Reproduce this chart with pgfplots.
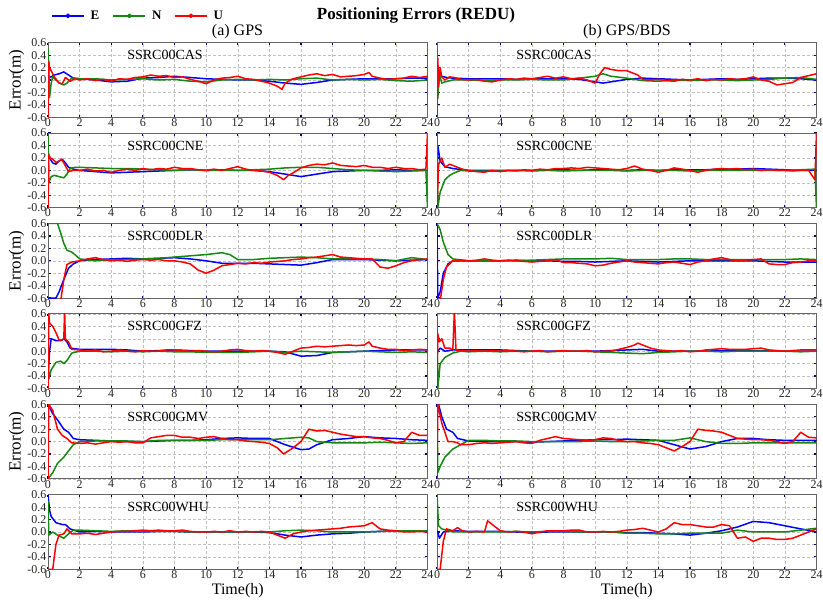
\documentclass[border=0pt]{standalone}
\usepackage{fontspec}
\setmainfont{Liberation Serif}
\usepackage{pgfplots}
\pgfplotsset{compat=1.18}
\definecolor{cE}{RGB}{0,0,255}
\definecolor{cN}{RGB}{20,135,20}
\definecolor{cU}{RGB}{255,0,0}
\pgfplotsset{
 panel/.style={scale only axis, width=379.5pt, height=74.6pt,
  xmin=0,xmax=24,ymin=-0.6,ymax=0.6,
  xtick={0,2,...,24}, xticklabels={0,2,4,6,8,10,12,14,16,18,20,22,24},
  ytick={-0.6,-0.4,-0.2,0,0.2,0.4,0.6},
  grid=major, major grid style={densely dashed, gray!50, line width=0.4pt},
  axis line style={black!60, line width=1pt},
  tick style={draw=blue!45!black, line width=1.2pt}, major tick length=2.5pt,
  tick align=inside,
  ticklabel style={font=\fontsize{12}{13}\selectfont, text=black!85},
  xticklabel style={inner sep=1pt},
  yticklabel style={inner sep=1.5pt},
  every axis plot/.append style={line width=1.5pt, no markers, line join=round},
  ylabel style={font=\fontsize{17}{18}\selectfont, yshift=-2pt},
  xlabel style={font=\fontsize{16}{17}\selectfont, yshift=0pt},
  anchor=north west},
 leftp/.style={panel, yticklabels={-0.6,-0.4,-0.2,0.0,0.2,0.4,0.6}},
 rightp/.style={panel, yticklabels={}},
 pE/.style={cE}, pN/.style={cN}, pU/.style={cU},
}
\newcommand{\stat}[1]{\node[anchor=west, inner sep=0pt, font=\fontsize{14}{15}\selectfont] at (axis cs:5,0.4) {#1};}
\begin{document}
\begin{tikzpicture}
\path[use as bounding box] (0,0) rectangle (823pt,605pt);
\node[font=\bfseries\fontsize{17}{18}\selectfont] at (416pt,590pt) {Positioning Errors (REDU)};
\node[font=\fontsize{16}{17}\selectfont] at (237.5pt,573pt) {(a) GPS};
\node[font=\fontsize{16}{17}\selectfont] at (627pt,573pt) {(b) GPS/BDS};

% ---------- Row 1 CAS ----------
\begin{axis}[leftp, at={(48pt,562.3pt)}, ylabel={Error(m)},
  legend entries={\makebox[24pt][l]{\hspace{4pt}E},\makebox[24pt][l]{\hspace{4pt}N},\makebox[24pt][l]{\hspace{4pt}U}},
  legend style={at={(0.008,1.36)}, anchor=west, draw=none, fill=none, inner sep=0pt,
    legend columns=3, font=\bfseries\fontsize{13}{14}\selectfont},
  legend image code/.code={\draw[#1, line width=1.5pt] (0pt,0pt) -- (32pt,0pt); \fill[#1] (16pt,0pt) circle (1.6pt);}]
\addplot[pE] coordinates {(0,0.0)(0.05,-0.1)(0.1,0.05)(0.2,0.05)(0.4,0.08)(0.7,0.1)(1.0,0.13)(1.3,0.08)(1.6,0.03)(2,0.02)(3,0.0)(4,-0.03)(5,-0.02)(6,0.03)(7,0.04)(8,0.06)(9,0.04)(10,0.02)(11,0.01)(12,0.0)(13,0.0)(14,-0.02)(15,-0.05)(16,-0.07)(17,-0.04)(18,0.0)(19,0.01)(20,0.02)(21,0.02)(22,0.02)(23,0.03)(24,0.03)};
\addplot[pN] coordinates {(0,0.5)(0.05,0.2)(0.1,-0.28)(0.2,-0.05)(0.3,0.05)(0.5,0.0)(0.8,-0.06)(1.0,-0.08)(1.2,-0.05)(1.5,0.03)(2,0.02)(3,0.02)(4,0.0)(5,0.01)(6,0.02)(7,0.0)(8,0.01)(9,-0.02)(10,-0.03)(11,0.0)(12,0.01)(13,0.0)(14,0.01)(15,0.0)(16,0.02)(17,0.03)(18,0.0)(19,0.01)(20,0.0)(21,0.01)(22,-0.01)(23,-0.02)(24,0.0)};
\addplot[pU] coordinates {(0,-0.6)(0.05,0.3)(0.1,0.2)(0.2,0.15)(0.4,0.05)(0.7,-0.05)(0.9,-0.06)(1.1,0.04)(1.4,-0.02)(1.7,0.02)(2,0.0)(2.5,0.02)(3,-0.01)(3.5,0.01)(4,-0.02)(4.5,0.02)(5,0.01)(5.5,0.04)(6,0.05)(6.5,0.08)(7,0.06)(7.5,0.07)(8,0.04)(8.5,0.05)(9,0.01)(9.5,-0.02)(10,-0.06)(10.5,0.0)(11,0.03)(11.5,0.04)(12,0.06)(12.5,0.02)(13,0.01)(13.5,-0.02)(14,-0.05)(14.5,-0.1)(14.8,-0.15)(15,-0.05)(15.5,0.02)(16,0.05)(16.5,0.08)(17,0.1)(17.5,0.07)(18,0.09)(18.5,0.05)(19,0.06)(19.5,0.07)(20,0.09)(20.3,0.12)(20.5,0.06)(21,0.03)(21.5,0.01)(22,0.02)(22.5,0.03)(23,0.06)(23.5,0.04)(24,0.06)};
\stat{SSRC00CAS}
\end{axis}
\begin{axis}[rightp, at={(437pt,562.3pt)}]
\addplot[pE] coordinates {(0,0.0)(0.1,0.05)(0.3,0.06)(0.6,0.04)(1,0.03)(2,0.02)(3,0.02)(4,0.02)(5,0.01)(6,0.02)(7,0.02)(8,0.02)(9,0.01)(10,-0.03)(10.5,-0.05)(11,-0.03)(12,0.01)(13,0.03)(14,0.02)(15,0.01)(16,0.0)(17,0.01)(18,0.02)(19,0.01)(20,0.02)(21,0.03)(22,0.03)(23,0.02)(24,0.0)};
\addplot[pN] coordinates {(0,0.5)(0.05,-0.3)(0.15,0.1)(0.3,-0.05)(0.5,-0.03)(1,0.0)(2,0.0)(3,-0.01)(4,0.0)(5,0.0)(6,0.01)(7,0.0)(8,0.0)(9,0.03)(10,0.06)(10.5,0.1)(11,0.06)(12,0.03)(13,-0.01)(14,-0.02)(15,0.0)(16,-0.01)(17,0.0)(18,0.0)(19,-0.01)(20,0.0)(21,0.01)(22,0.03)(23,0.04)(24,0.01)};
\addplot[pU] coordinates {(0,-0.6)(0.05,0.35)(0.1,-0.1)(0.2,0.2)(0.3,0.05)(0.5,0.0)(0.8,0.05)(1.1,0.04)(1.5,0.01)(2,0.0)(2.5,0.01)(3,-0.02)(3.5,-0.03)(4,0.0)(4.5,0.02)(5,0.01)(5.5,0.03)(6,0.02)(6.5,0.04)(7,0.06)(7.5,0.03)(8,0.05)(8.5,0.02)(9,0.03)(9.5,0.0)(10,-0.05)(10.3,0.1)(10.6,0.2)(11,0.17)(11.5,0.15)(12,0.15)(12.3,0.12)(12.7,0.08)(13,0.01)(13.5,0.0)(14,0.01)(14.5,-0.01)(15,-0.02)(15.5,0.01)(16,0.0)(16.5,0.02)(17,-0.01)(17.5,0.01)(18,0.0)(18.5,0.02)(19,0.01)(19.5,0.02)(20,0.05)(20.5,0.0)(21,-0.02)(21.5,-0.08)(22,-0.06)(22.5,-0.04)(23,0.04)(23.5,0.07)(24,0.1)};
\stat{SSRC00CAS}
\end{axis}

% ---------- Row 2 CNE ----------
\begin{axis}[leftp, at={(48pt,471.9pt)}]
\addplot[pE] coordinates {(0,0.3)(0.05,0.25)(0.1,0.2)(0.3,0.12)(0.5,0.1)(0.7,0.15)(0.9,0.18)(1.1,0.12)(1.3,0.05)(1.6,0.02)(2,0.0)(3,-0.02)(4,-0.04)(5,-0.03)(6,-0.02)(7,-0.01)(8,0.0)(9,0.01)(10,0.0)(11,0.01)(12,0.0)(13,0.0)(14,-0.02)(15,-0.06)(16,-0.1)(17,-0.06)(18,-0.02)(19,-0.01)(20,0.0)(21,0.0)(22,0.01)(23,0.0)(24,0.0)};
\addplot[pN] coordinates {(0,0.55)(0.05,-0.2)(0.2,-0.1)(0.4,-0.08)(0.7,-0.1)(1.0,-0.12)(1.2,-0.06)(1.4,0.03)(1.7,0.05)(2,0.05)(3,0.04)(4,0.03)(5,0.03)(6,0.02)(7,0.01)(8,0.0)(9,0.01)(10,0.0)(11,0.0)(12,0.0)(13,0.01)(14,0.02)(15,0.04)(16,0.05)(17,0.05)(18,0.03)(19,0.01)(20,0.0)(21,-0.01)(22,-0.02)(23,-0.01)(23.9,0.0)(24,-0.6)};
\addplot[pU] coordinates {(0,-0.6)(0.05,0.25)(0.15,0.2)(0.3,0.18)(0.5,0.13)(0.7,0.15)(0.85,0.18)(1.0,0.12)(1.15,0.05)(1.3,-0.02)(1.6,0.0)(2,0.0)(2.5,0.02)(3,-0.01)(3.5,0.0)(4,-0.03)(4.5,0.0)(5,0.02)(5.5,0.0)(6,0.03)(6.5,0.01)(7,0.03)(7.5,0.02)(8,0.05)(8.5,0.03)(9,0.03)(9.5,0.01)(10,0.0)(10.5,0.02)(11,0.0)(11.5,0.03)(12,0.06)(12.5,0.02)(13,0.0)(13.5,-0.01)(14,-0.03)(14.5,-0.08)(14.9,-0.15)(15.2,-0.08)(15.5,-0.04)(16,0.04)(16.5,0.08)(17,0.1)(17.5,0.09)(18,0.12)(18.5,0.08)(19,0.07)(19.5,0.06)(20,0.08)(20.5,0.05)(21,0.05)(21.5,0.03)(22,0.05)(22.5,0.03)(23,0.03)(23.5,0.01)(23.9,0.02)(24,0.6)};
\stat{SSRC00CNE}
\end{axis}
\begin{axis}[rightp, at={(437pt,471.9pt)}]
\addplot[pE] coordinates {(0,0.0)(0.05,0.4)(0.2,0.15)(0.5,0.06)(1,0.03)(2,0.0)(3,0.0)(4,0.0)(5,0.0)(6,0.0)(7,0.01)(8,0.01)(9,0.0)(10,0.01)(11,0.01)(12,0.0)(13,0.01)(14,0.0)(15,0.01)(16,0.01)(17,0.01)(18,0.02)(19,0.02)(20,0.03)(21,0.02)(22,0.01)(23,0.0)(23.9,0.0)(24,0.0)};
\addplot[pN] coordinates {(0,0.6)(0.05,-0.6)(0.2,-0.35)(0.5,-0.15)(0.8,-0.08)(1.1,-0.04)(1.5,0.0)(2,-0.01)(3,-0.01)(4,-0.01)(5,0.0)(6,-0.01)(7,0.0)(8,-0.01)(9,0.0)(10,0.0)(11,0.0)(12,-0.01)(13,0.0)(14,0.0)(15,0.0)(16,-0.01)(17,0.0)(18,0.0)(19,0.0)(20,0.0)(21,0.0)(22,0.0)(23,0.01)(23.9,0.02)(24,-0.6)};
\addplot[pU] coordinates {(0,-0.6)(0.1,0.1)(0.3,0.2)(0.5,0.05)(0.8,0.1)(1.2,0.06)(1.6,0.02)(2,0.0)(2.5,-0.02)(3,-0.03)(3.5,0.0)(4,-0.02)(4.5,0.0)(5,-0.01)(5.5,0.01)(6,0.0)(6.5,0.02)(7,0.01)(7.5,0.03)(8,0.03)(8.5,0.04)(9,0.03)(9.5,0.05)(10,0.04)(10.5,0.03)(11,0.02)(11.5,0.01)(12,0.03)(12.5,0.07)(13,0.02)(13.5,0.0)(14,-0.03)(14.5,0.0)(15,0.04)(15.5,0.02)(16,0.0)(16.5,-0.03)(17,0.0)(17.5,0.02)(18,0.03)(18.5,0.02)(19,0.03)(19.5,0.01)(20,0.02)(20.5,0.0)(21,0.01)(21.5,0.0)(22,0.0)(22.5,-0.01)(23,0.0)(23.5,0.0)(23.9,-0.15)(24,0.6)};
\stat{SSRC00CNE}
\end{axis}

% ---------- Row 3 DLR ----------
\begin{axis}[leftp, at={(48pt,381.5pt)}, ylabel={Error(m)}]
\addplot[pE] coordinates {(0,-0.6)(0.5,-0.6)(0.7,-0.5)(1,-0.3)(1.3,-0.12)(1.6,-0.05)(2,0.0)(3,0.02)(4,0.03)(5,0.04)(6,0.03)(7,0.04)(8,0.05)(9,0.03)(10,0.0)(11,-0.04)(12,-0.04)(13,-0.04)(14,-0.05)(15,-0.06)(16,-0.07)(17,-0.03)(18,0.02)(19,0.02)(20,0.02)(21,0.01)(22,0.0)(23,0.01)(24,0.02)};
\addplot[pN] coordinates {(0,0.6)(0.6,0.6)(0.8,0.45)(1.0,0.28)(1.2,0.17)(1.5,0.14)(1.7,0.1)(2,0.03)(3,0.0)(4,0.02)(5,0.02)(6,0.03)(7,0.04)(8,0.06)(9,0.08)(10,0.1)(11,0.13)(11.5,0.1)(12,0.02)(13,0.02)(14,0.04)(15,0.05)(16,0.06)(17,0.05)(18,0.03)(19,0.03)(20,0.03)(21,0.02)(22,0.0)(23,0.05)(24,0.02)};
\addplot[pU] coordinates {(0.8,-0.65)(1.0,-0.3)(1.2,-0.06)(1.5,-0.02)(2,0.0)(2.5,0.03)(3,0.05)(3.5,0.02)(4,0.0)(4.5,0.01)(5,-0.01)(5.5,0.01)(6,0.02)(6.5,0.01)(7,0.02)(7.5,0.0)(8,0.0)(8.5,-0.02)(9,-0.05)(9.5,-0.15)(10,-0.2)(10.5,-0.15)(11,-0.08)(11.5,-0.06)(12,-0.04)(12.5,-0.05)(13,-0.03)(13.5,-0.04)(14,-0.02)(14.5,-0.01)(15,0.0)(15.5,0.02)(16,0.03)(16.5,0.05)(17,0.06)(17.5,0.08)(18,0.1)(18.5,0.06)(19,0.05)(19.5,0.04)(20,0.03)(20.5,0.03)(21,-0.1)(21.5,-0.12)(22,-0.08)(22.5,-0.03)(23,0.0)(23.5,0.02)(24,0.03)};
\stat{SSRC00DLR}
\end{axis}
\begin{axis}[rightp, at={(437pt,381.5pt)}]
\addplot[pE] coordinates {(0,0.6)(0.05,-0.6)(0.2,-0.5)(0.4,-0.2)(0.7,-0.05)(1,0.0)(2,0.0)(3,0.0)(4,0.0)(5,0.01)(6,0.0)(7,0.0)(8,-0.01)(9,-0.01)(10,-0.02)(11,-0.01)(12,0.0)(13,-0.01)(14,-0.02)(15,-0.01)(16,0.0)(17,0.0)(18,0.0)(19,0.0)(20,0.0)(21,-0.01)(22,-0.02)(23,-0.02)(24,-0.02)};
\addplot[pN] coordinates {(0,0.6)(0.2,0.5)(0.4,0.3)(0.7,0.1)(1,0.03)(2,0.0)(3,0.0)(4,0.0)(5,0.0)(6,0.01)(7,0.02)(8,0.03)(9,0.03)(10,0.03)(11,0.04)(12,0.02)(13,0.02)(14,0.02)(15,0.03)(16,0.03)(17,0.02)(18,0.02)(19,0.02)(20,0.02)(21,0.02)(22,0.02)(23,0.03)(24,0.02)};
\addplot[pU] coordinates {(0.2,-0.65)(0.4,-0.3)(0.6,-0.1)(1,0.0)(1.5,0.01)(2,0.0)(2.5,0.01)(3,0.03)(3.5,0.01)(4,0.0)(4.5,0.01)(5,0.0)(5.5,-0.01)(6,-0.02)(6.5,-0.01)(7,0.0)(7.5,0.02)(8,-0.03)(8.5,-0.03)(9,-0.04)(9.5,-0.05)(10,-0.08)(10.5,-0.07)(11,-0.04)(11.5,-0.02)(12,0.0)(12.5,-0.02)(13,-0.03)(13.5,-0.04)(14,-0.05)(14.5,-0.03)(15,-0.02)(15.5,-0.04)(16,-0.06)(16.5,-0.02)(17,0.0)(17.5,0.03)(18,0.05)(18.5,0.02)(19,0.0)(19.5,0.01)(20,0.02)(20.5,0.03)(21,-0.05)(21.5,-0.06)(22,-0.06)(22.5,-0.03)(23,-0.02)(23.5,0.0)(24,0.0)};
\stat{SSRC00DLR}
\end{axis}

% ---------- Row 4 GFZ ----------
\begin{axis}[leftp, at={(48pt,291.1pt)}]
\addplot[pE] coordinates {(0,-0.4)(0.1,0.0)(0.2,0.2)(0.5,0.17)(0.8,0.17)(1.0,0.2)(1.2,0.15)(1.4,0.05)(2,0.03)(3,0.03)(4,0.03)(5,0.02)(6,0.0)(7,0.01)(8,0.02)(9,0.01)(10,0.0)(11,0.0)(12,0.0)(13,0.0)(14,0.0)(15,-0.01)(16,-0.08)(17,-0.07)(18,-0.02)(19,-0.01)(20,0.0)(21,0.01)(22,0.02)(23,0.02)(24,0.02)};
\addplot[pN] coordinates {(0,0.6)(0.05,-0.45)(0.2,-0.3)(0.5,-0.18)(0.8,-0.16)(1.0,-0.2)(1.2,-0.15)(1.5,-0.03)(2,0.0)(3,0.0)(4,-0.01)(5,0.0)(6,-0.01)(7,0.0)(8,-0.01)(9,-0.01)(10,-0.02)(11,-0.02)(12,-0.02)(13,-0.01)(14,0.0)(15,-0.02)(16,0.0)(17,-0.01)(18,-0.02)(19,-0.01)(20,0.0)(21,-0.01)(22,-0.02)(23,-0.01)(24,-0.02)};
\addplot[pU] coordinates {(0,-0.6)(0.05,0.6)(0.1,0.45)(0.3,0.4)(0.5,0.3)(0.7,0.18)(0.9,0.18)(1.0,0.2)(1.05,0.65)(1.1,0.2)(1.3,0.15)(1.5,0.03)(2,0.02)(2.5,0.0)(3,0.02)(3.5,-0.01)(4,0.0)(4.5,0.02)(5,0.0)(5.5,-0.01)(6,0.01)(6.5,0.0)(7,0.0)(7.5,0.02)(8,0.02)(8.5,0.01)(9,0.0)(9.5,0.01)(10,0.0)(10.5,-0.01)(11,0.0)(11.5,0.02)(12,0.03)(12.5,0.01)(13,0.0)(13.5,0.01)(14,0.0)(14.5,-0.02)(15,-0.05)(15.5,0.0)(16,0.05)(16.5,0.06)(17,0.08)(17.5,0.07)(18,0.08)(18.5,0.09)(19,0.1)(19.5,0.09)(20,0.1)(20.3,0.15)(20.5,0.08)(21,0.05)(21.5,0.03)(22,0.03)(22.5,0.01)(23,0.02)(23.5,0.03)(24,0.02)};
\stat{SSRC00GFZ}
\end{axis}
\begin{axis}[rightp, at={(437pt,291.1pt)}]
\addplot[pE] coordinates {(0,0.0)(0.05,0.0)(0.2,0.05)(0.5,0.0)(1,0.02)(2,0.02)(3,0.02)(4,0.02)(5,0.01)(6,0.0)(7,0.0)(8,0.0)(9,0.0)(10,0.0)(11,0.01)(12,0.02)(13,0.03)(14,0.0)(15,0.0)(16,0.0)(17,0.0)(18,0.01)(19,0.01)(20,0.01)(21,0.01)(22,0.0)(23,0.0)(24,0.0)};
\addplot[pN] coordinates {(0,0.5)(0.05,-0.6)(0.2,-0.2)(0.5,-0.1)(1,-0.03)(1.5,0.0)(2,-0.01)(3,0.0)(4,-0.01)(5,0.0)(6,0.0)(7,-0.01)(8,0.0)(9,0.0)(10,-0.01)(11,-0.02)(12,-0.03)(13,-0.04)(14,-0.02)(15,-0.01)(16,0.0)(17,0.0)(18,-0.01)(19,0.0)(20,0.0)(21,0.0)(22,0.0)(23,-0.01)(24,0.0)};
\addplot[pU] coordinates {(0,-0.6)(0.05,0.28)(0.15,0.15)(0.3,0.2)(0.5,0.05)(0.8,0.05)(1.0,0.02)(1.1,0.65)(1.2,0.02)(1.5,0.01)(2,0.0)(2.5,0.01)(3,0.0)(3.5,0.01)(4,0.0)(4.5,0.01)(5,0.0)(5.5,-0.01)(6,0.0)(6.5,0.01)(7,-0.01)(7.5,0.0)(8,0.01)(8.5,0.0)(9,0.0)(9.5,0.01)(10,-0.01)(10.5,0.0)(11,0.0)(11.5,0.03)(12,0.06)(12.5,0.1)(12.7,0.13)(13,0.1)(13.5,0.05)(14,0.02)(14.5,0.01)(15,0.0)(15.5,0.01)(16,-0.01)(16.5,0.0)(17,0.02)(17.5,0.03)(18,0.04)(18.5,0.03)(19,0.03)(19.5,0.03)(20,0.04)(20.5,0.05)(21,0.02)(21.5,0.01)(22,0.0)(22.5,0.01)(23,0.02)(23.5,0.02)(24,0.02)};
\stat{SSRC00GFZ}
\end{axis}

% ---------- Row 5 GMV ----------
\begin{axis}[leftp, at={(48pt,200.7pt)}, ylabel={Error(m)}]
\addplot[pE] coordinates {(0,0.6)(0.1,0.55)(0.3,0.45)(0.6,0.35)(1,0.2)(1.3,0.15)(1.6,0.05)(2,0.03)(3,0.02)(4,0.01)(5,0.0)(6,0.0)(7,0.01)(8,0.02)(9,0.02)(10,0.03)(11,0.05)(12,0.06)(13,0.05)(14,0.05)(14.5,0.0)(15,-0.05)(16,-0.13)(16.5,-0.12)(17,-0.05)(18,0.03)(19,0.05)(20,0.08)(21,0.06)(22,0.05)(23,0.03)(24,0.02)};
\addplot[pN] coordinates {(0,-0.6)(0.3,-0.5)(0.6,-0.35)(1,-0.25)(1.3,-0.15)(1.6,-0.05)(2,0.0)(3,0.01)(4,0.01)(5,0.01)(6,0.0)(7,0.02)(8,0.02)(9,0.02)(10,0.02)(11,0.03)(12,0.03)(13,0.03)(14,0.03)(15,0.05)(16,0.07)(16.5,0.06)(17,0.0)(18,-0.02)(19,-0.02)(20,-0.02)(21,-0.01)(22,-0.02)(23,-0.03)(24,-0.02)};
\addplot[pU] coordinates {(0,-0.6)(0.05,0.6)(0.3,0.5)(0.6,0.2)(0.9,0.1)(1.2,0.05)(1.5,-0.02)(2,-0.03)(2.5,-0.02)(3,-0.04)(3.5,-0.02)(4,0.0)(4.5,-0.01)(5,0.0)(5.5,-0.02)(6,-0.02)(6.5,0.06)(7,0.08)(7.5,0.1)(8,0.1)(8.5,0.07)(9,0.07)(9.5,0.05)(10,0.07)(10.5,0.08)(11,0.05)(11.5,0.03)(12,0.03)(12.5,0.01)(13,0.0)(13.5,-0.01)(14,-0.03)(14.5,-0.1)(14.9,-0.2)(15.5,-0.1)(16,0.0)(16.5,0.2)(17,0.17)(17.5,0.18)(18,0.15)(18.5,0.12)(19,0.1)(19.5,0.08)(20,0.08)(20.5,0.06)(21,0.05)(21.5,0.02)(22,-0.02)(22.5,0.0)(23,0.15)(23.5,0.1)(24,0.1)};
\stat{SSRC00GMV}
\end{axis}
\begin{axis}[rightp, at={(437pt,200.7pt)}]
\addplot[pE] coordinates {(0,0.6)(0.1,0.6)(0.3,0.4)(0.6,0.2)(1,0.15)(1.3,0.05)(2,0.01)(3,0.0)(4,0.0)(5,0.0)(6,-0.01)(7,0.0)(8,0.01)(9,0.02)(10,0.03)(11,0.03)(12,0.04)(13,0.03)(14,0.02)(15,-0.05)(16,-0.12)(17,-0.08)(18,0.0)(19,0.05)(20,0.05)(21,0.03)(22,0.02)(23,0.02)(24,0.02)};
\addplot[pN] coordinates {(0,0.6)(0.05,-0.5)(0.2,-0.4)(0.5,-0.25)(1,-0.12)(1.5,-0.05)(2,0.02)(3,0.02)(4,0.01)(5,0.01)(6,0.0)(7,0.0)(8,0.0)(9,0.0)(10,0.01)(11,0.0)(12,0.0)(13,0.01)(14,0.02)(15,0.02)(16,0.06)(17,0.0)(18,-0.03)(19,-0.03)(20,-0.02)(21,-0.02)(22,-0.02)(23,-0.02)(24,-0.02)};
\addplot[pU] coordinates {(0,-0.6)(0.05,0.6)(0.3,0.3)(0.7,0.0)(1.0,0.0)(1.3,-0.02)(1.5,-0.05)(2,-0.05)(2.5,-0.03)(3,-0.02)(3.5,-0.03)(4,-0.02)(4.5,-0.01)(5,0.0)(5.5,-0.02)(6,-0.03)(6.5,0.02)(7,0.05)(7.5,0.08)(8,0.05)(8.5,0.04)(9,0.03)(9.5,0.02)(10,0.03)(10.5,0.06)(11,0.05)(11.5,0.02)(12,0.0)(12.5,0.0)(13,-0.02)(13.5,-0.03)(14,-0.05)(14.5,-0.1)(15,-0.15)(15.5,-0.08)(16,0.0)(16.5,0.2)(17,0.18)(17.5,0.17)(18,0.15)(18.5,0.1)(19,0.05)(19.5,0.04)(20,0.03)(20.5,0.03)(21,0.02)(21.5,0.0)(22,-0.03)(22.5,0.0)(23,0.15)(23.5,0.07)(24,0.06)};
\stat{SSRC00GMV}
\end{axis}

% ---------- Row 6 WHU ----------
\begin{axis}[leftp, at={(48pt,110.3pt)}, xlabel={Time(h)}]
\addplot[pE] coordinates {(0,0.6)(0.1,0.35)(0.2,0.25)(0.5,0.15)(0.9,0.12)(1.1,0.12)(1.4,0.05)(2,0.0)(3,0.01)(4,0.0)(5,0.0)(6,0.0)(7,0.01)(8,0.01)(9,0.0)(10,0.0)(11,0.0)(12,0.0)(13,0.0)(14,-0.01)(15,-0.05)(16,-0.08)(17,-0.05)(18,-0.03)(19,-0.02)(20,0.0)(21,0.01)(22,0.02)(23,0.02)(24,0.02)};
\addplot[pN] coordinates {(0,0.5)(0.05,-0.05)(0.3,0.0)(0.6,-0.05)(1.0,-0.1)(1.3,-0.03)(1.6,0.03)(2,0.03)(3,0.02)(4,0.01)(5,0.02)(6,0.01)(7,0.01)(8,0.01)(9,0.0)(10,0.0)(11,0.0)(12,0.0)(13,0.0)(14,0.0)(15,0.02)(16,0.03)(17,0.02)(18,0.0)(19,0.0)(20,0.0)(21,0.01)(22,0.02)(23,0.02)(24,0.02)};
\addplot[pU] coordinates {(0,-0.6)(0.3,-0.6)(0.5,-0.2)(0.7,-0.05)(1.0,-0.03)(1.2,0.05)(1.5,-0.03)(2,-0.03)(2.5,-0.02)(3,-0.04)(3.5,-0.02)(4,0.0)(4.5,0.01)(5,0.01)(5.5,0.02)(6,0.03)(6.5,0.02)(7,0.03)(7.5,0.02)(8,0.02)(8.5,0.03)(9,0.01)(9.5,0.0)(10,0.0)(10.5,0.01)(11,0.0)(11.5,0.02)(12,0.0)(12.5,0.01)(13,0.0)(13.5,0.01)(14,0.0)(14.5,-0.05)(15,-0.1)(15.5,-0.03)(16,0.0)(16.5,0.02)(17,0.03)(17.5,0.04)(18,0.05)(18.5,0.06)(19,0.08)(19.5,0.09)(20,0.1)(20.5,0.15)(21,0.05)(21.5,0.03)(22,0.02)(22.5,0.0)(23,0.0)(23.5,0.01)(24,0.0)};
\stat{SSRC00WHU}
\end{axis}
\begin{axis}[rightp, at={(437pt,110.3pt)}, xlabel={Time(h)}]
\addplot[pE] coordinates {(0,0.0)(0.05,0.0)(0.15,-0.1)(0.4,0.0)(1,0.02)(2,0.01)(3,0.01)(4,0.01)(5,0.0)(6,-0.01)(7,0.0)(8,0.0)(9,0.0)(10,0.0)(11,0.0)(12,-0.01)(13,-0.01)(14,-0.02)(15,-0.03)(16,-0.05)(17,-0.02)(18,0.02)(19,0.08)(20,0.17)(21,0.15)(22,0.1)(23,0.05)(24,0.0)};
\addplot[pN] coordinates {(0,0.6)(0.1,0.1)(0.3,0.05)(1,0.0)(2,0.0)(3,0.0)(4,0.0)(5,0.01)(6,0.0)(7,0.01)(8,0.01)(9,0.0)(10,0.0)(11,0.0)(12,-0.02)(13,-0.02)(14,-0.03)(15,-0.03)(16,-0.02)(17,-0.02)(18,-0.02)(19,0.03)(20,0.0)(21,0.0)(22,0.0)(23,0.03)(24,0.06)};
\addplot[pU] coordinates {(0,-0.6)(0.2,-0.6)(0.4,-0.15)(0.6,0.05)(1.0,0.02)(1.3,0.07)(1.6,0.02)(2,0.0)(2.5,0.01)(3,0.0)(3.2,0.18)(3.5,0.12)(4,0.02)(4.5,0.0)(5,0.01)(5.5,0.0)(6,-0.03)(6.5,0.0)(7,0.02)(7.5,0.02)(8,0.02)(8.5,0.03)(9,0.03)(9.5,0.0)(10,0.0)(10.5,0.01)(11,0.0)(11.5,0.01)(12,0.03)(12.5,0.04)(13,0.06)(13.5,0.03)(14,0.0)(14.5,0.05)(15,0.15)(15.5,0.12)(16,0.12)(16.5,0.1)(17,0.08)(17.5,0.08)(18,0.12)(18.5,0.1)(19,-0.1)(19.5,-0.08)(20,-0.15)(20.5,-0.1)(21,-0.1)(21.5,-0.12)(22,-0.12)(22.5,-0.1)(23,-0.05)(23.5,0.0)(24,0.05)};
\stat{SSRC00WHU}
\end{axis}
\end{tikzpicture}
\end{document}
